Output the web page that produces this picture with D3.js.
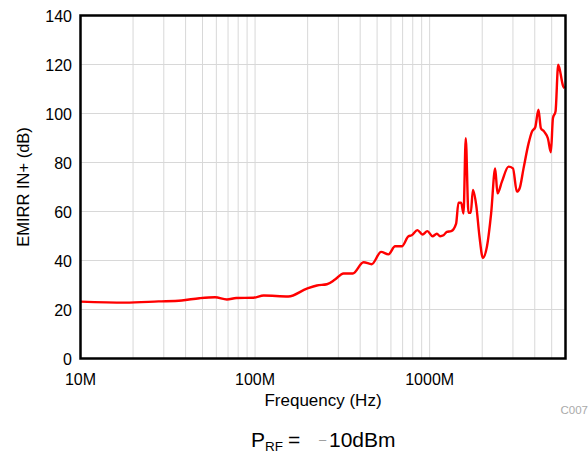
<!DOCTYPE html>
<html>
<head>
<meta charset="utf-8">
<script src="https://cdn.jsdelivr.net/npm/d3@7"></script>
<style>
  html, body { margin: 0; padding: 0; background: #fff; }
  svg { display: block; font-family: "Liberation Sans", Arial, Helvetica, sans-serif; }
</style>
</head>
<body>
<svg id="chart" width="588" height="454"></svg>
<script>
// Frequency in MHz
const freqMHz = [10, 18, 28, 38, 48, 59, 69, 78, 98, 112, 155, 198, 226, 258, 287, 321, 363, 418, 466, 527, 580,
  634, 693, 756, 790, 851, 910, 970, 1038, 1100, 1148, 1200, 1254, 1328, 1418, 1462, 1515, 1563, 1610, 1668,
  1720, 1770, 1848, 1930, 2018, 2128, 2250, 2373, 2447, 2594, 2830, 3000, 3160, 3275, 3450, 3690, 3855, 4026,
  4200, 4336, 4530, 4755, 4950, 5083, 5260, 5450, 5820, 5920];
// EMIRR IN+ (dB)
const emirr = [23.2, 22.8, 23.3, 23.7, 24.6, 25.0, 24.1, 24.7, 24.8, 25.7, 25.3, 28.5, 29.8, 30.3, 32.2, 34.7, 34.7,
  39.3, 38.5, 43.5, 42.5, 45.8, 45.8, 49.9, 50.3, 52.4, 50.6, 52.0, 49.9, 50.9, 49.9, 50.3, 51.7, 52.0, 55.1,
  63.6, 63.6, 59.2, 89.9, 59.5, 59.5, 68.8, 62.6, 49.7, 41.1, 45.6, 59.2, 77.6, 67.4, 72.2, 78.3, 77.6, 68.1,
  69.4, 77.6, 87.9, 92.6, 94.4, 101.5, 94.0, 92.6, 89.9, 84.2, 98.1, 100.8, 119.9, 111.1, 110.3];
const yTicks = [0, 20, 40, 60, 80, 100, 120, 140];
const xTickValues = [10, 100, 1000];
const xTickLabels = ["10M", "100M", "1000M"];

const svg = d3.select("#chart");
const L = 80.5, R = 565.5, T = 15.5, B = 358.5;

const x = d3.scaleLog().domain([10, 6000]).range([L, R]);
const y = d3.scaleLinear().domain([0, 140]).range([B, T]);

// minor vertical grid
const gridX = [];
[10, 100, 1000].forEach(d => { for (let k = 1; k <= 9; k++) { const v = d * k; if (v > 10 && v < 6000) gridX.push(v); } });
svg.append("g").selectAll("line").data(gridX).join("line")
  .attr("x1", d => x(d)).attr("x2", d => x(d))
  .attr("y1", T).attr("y2", B)
  .attr("stroke", "#d8d8d8").attr("stroke-width", 1);

svg.append("g").selectAll("line").data(yTicks.slice(1, -1)).join("line")
  .attr("x1", L).attr("x2", R)
  .attr("y1", d => y(d)).attr("y2", d => y(d))
  .attr("stroke", "#d8d8d8").attr("stroke-width", 1);

// curve
const line = d3.line().x((d, i) => x(freqMHz[i])).y(d => y(d)).curve(d3.curveMonotoneX);
svg.append("path").datum(emirr)
  .attr("d", line)
  .attr("fill", "none").attr("stroke", "#ff0000")
  .attr("stroke-width", 2.4).attr("stroke-linejoin", "round");

// frame
svg.append("rect").attr("x", L).attr("y", T).attr("width", R - L).attr("height", B - T)
  .attr("fill", "none").attr("stroke", "#000").attr("stroke-width", 2.5);

// y tick labels
svg.append("g").selectAll("text").data(yTicks).join("text")
  .attr("x", 72).attr("y", d => y(d) + 6)
  .attr("text-anchor", "end").attr("font-size", 16).attr("fill", "#000")
  .text(d => d);

// x tick labels
svg.append("g").selectAll("text").data(xTickValues).join("text")
  .attr("x", d => x(d)).attr("y", 384.5)
  .attr("text-anchor", "middle").attr("font-size", 16).attr("fill", "#000")
  .text((d, i) => xTickLabels[i]);

// axis titles
svg.append("text").attr("x", (L + R) / 2).attr("y", 405.5)
  .attr("text-anchor", "middle").attr("font-size", 17).text("Frequency (Hz)");
svg.append("text").attr("transform", `translate(29,${(T + B) / 2}) rotate(-90)`)
  .attr("text-anchor", "middle").attr("font-size", 16.5).text("EMIRR IN+ (dB)");

// code label
svg.append("text").attr("x", 560.5).attr("y", 413.5)
  .attr("font-size", 11.5).attr("fill", "#aaaaaa").text("C007");

// P_RF caption
const cap = svg.append("text").attr("y", 447).attr("font-size", 21).attr("fill", "#000");
cap.append("tspan").attr("x", 251).text("P");
cap.append("tspan").attr("font-size", 13.5).attr("dy", 3.5).text("RF");
cap.append("tspan").attr("x", 288).attr("dy", -3.5).text("=");
cap.append("tspan").attr("x", 319).attr("font-size", 13).attr("fill", "#999").attr("dy", -3).text("–");
cap.append("tspan").attr("x", 329).attr("dy", 3).text("10dBm");
</script>
</body>
</html>
